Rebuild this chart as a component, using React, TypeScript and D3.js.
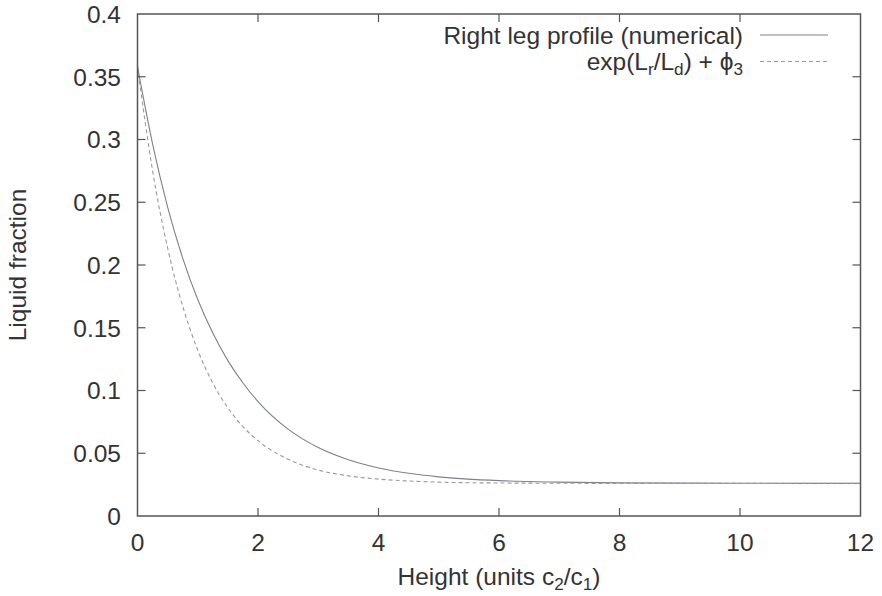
import React from "react";
import * as d3 from "d3";

const heights = [0, 0.25, 0.5, 0.75, 1, 1.25, 1.5, 1.75, 2, 2.5, 3, 3.5, 4, 4.5, 5, 6, 7, 8, 10, 12];
const numerical = [0.358, 0.2966, 0.2462, 0.2055, 0.1725, 0.1458, 0.1238, 0.106, 0.0912, 0.0692, 0.0545, 0.0448, 0.0383, 0.034, 0.0312, 0.0282, 0.027, 0.0264, 0.0261, 0.026];
const approx = [0.358, 0.2752, 0.2136, 0.1672, 0.1322, 0.1058, 0.0862, 0.0712, 0.06, 0.0452, 0.0366, 0.032, 0.0294, 0.0279, 0.027, 0.0263, 0.0261, 0.026, 0.026, 0.026];
const xTicks = [0, 2, 4, 6, 8, 10, 12];
const yTicks = [0, 0.05, 0.1, 0.15, 0.2, 0.25, 0.3, 0.35, 0.4];

const W = 882, H = 596;
const L = 137.5, R = 860.5, T = 14, B = 516;
const FONT = "'Liberation Sans', Arial, Helvetica, sans-serif";
const FS = 24.5;
const AX = "#555";
const TXT = "#333";

export default function App() {
  const x = d3.scaleLinear().domain([0, 12]).range([L, R]);
  const y = d3.scaleLinear().domain([0, 0.4]).range([B, T]);
  const line = d3.line<number>().x((_, i) => x(heights[i])).y((d) => y(d)).curve(d3.curveMonotoneX);
  const tk = 8;
  return (
    <svg width={W} height={H} style={{ position: "absolute", left: 0, top: 0, background: "#fff" }} fontFamily={FONT}>
      <rect x={0} y={0} width={W} height={H} fill="#fff" />
      <path d={line(numerical) || ""} fill="none" stroke="#7c818c" strokeWidth={1.1} />
      <path d={line(approx) || ""} fill="none" stroke="#9a9a9a" strokeWidth={1.1} strokeDasharray="4,3" />
      {xTicks.map((t) => (
        <g key={"x" + t}>
          {t > 0 && t < 12 && <line x1={x(t)} x2={x(t)} y1={B} y2={B - tk} stroke={AX} strokeWidth={1.2} />}
          {t > 0 && t < 12 && <line x1={x(t)} x2={x(t)} y1={T} y2={T + tk} stroke={AX} strokeWidth={1.2} />}
          <text x={x(t)} y={551} textAnchor="middle" fontSize={FS} fill={TXT}>{t}</text>
        </g>
      ))}
      {yTicks.map((t) => (
        <g key={"y" + t}>
          {t > 0 && t < 0.4 && <line x1={L} x2={L + tk} y1={y(t)} y2={y(t)} stroke={AX} strokeWidth={1.2} />}
          {t > 0 && t < 0.4 && <line x1={R} x2={R - tk} y1={y(t)} y2={y(t)} stroke={AX} strokeWidth={1.2} />}
          <text x={121} y={y(t)} dy="0.36em" textAnchor="end" fontSize={FS} fill={TXT}>{d3.format("")(+t.toFixed(2))}</text>
        </g>
      ))}
      <rect x={L} y={T} width={R - L} height={B - T} fill="none" stroke={AX} strokeWidth={1.5} />
      <text x={743} y={44} textAnchor="end" fontSize={FS} fill={TXT}>Right leg profile (numerical)</text>
      <line x1={760} x2={828} y1={35} y2={35} stroke="#7c818c" strokeWidth={1.1} />
      <text x={743} y={70} textAnchor="end" fontSize={FS} fill={TXT}>
        exp(L<tspan fontSize={FS * 0.7} dy={5}>r</tspan><tspan dy={-5}>/L</tspan><tspan fontSize={FS * 0.7} dy={5}>d</tspan><tspan dy={-5}>) + ϕ</tspan><tspan fontSize={FS * 0.7} dy={5}>3</tspan>
      </text>
      <line x1={760} x2={828} y1={61.5} y2={61.5} stroke="#9a9a9a" strokeWidth={1.1} strokeDasharray="4,3" />
      <text x={(L + R) / 2} y={585} textAnchor="middle" fontSize={FS} fill={TXT}>
        Height (units c<tspan fontSize={FS * 0.7} dy={5}>2</tspan><tspan dy={-5}>/c</tspan><tspan fontSize={FS * 0.7} dy={5}>1</tspan><tspan dy={-5}>)</tspan>
      </text>
      <text transform={`translate(26, ${(T + B) / 2}) rotate(-90)`} textAnchor="middle" fontSize={FS} fill={TXT}>Liquid fraction</text>
    </svg>
  );
}
